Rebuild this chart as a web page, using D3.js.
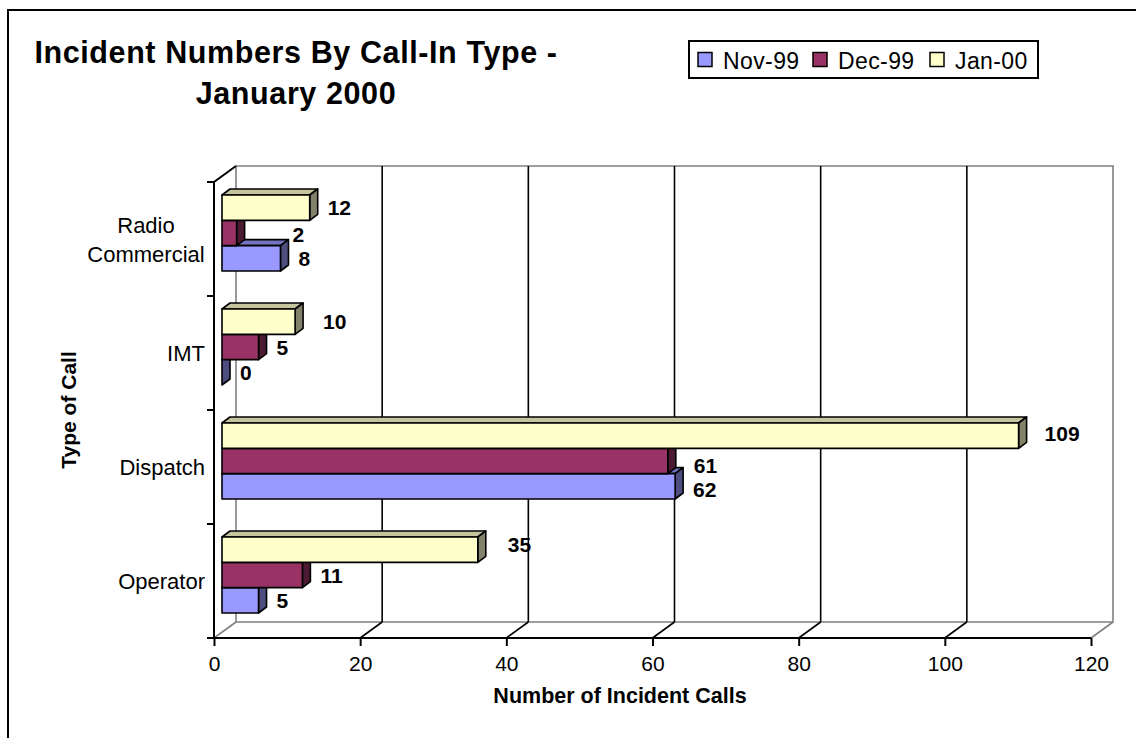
<!DOCTYPE html>
<html>
<head>
<meta charset="utf-8">
<script src="https://cdn.jsdelivr.net/npm/d3@7"></script>
<style>
  html, body { margin: 0; padding: 0; background: #fff; }
  svg { display: block; font-family: "Liberation Sans", Arial, sans-serif; }
</style>
</head>
<body>
<svg id="chart" width="1136" height="738"></svg>
<script>
// ---- data ----
const categories = ["Radio Commercial", "IMT", "Dispatch", "Operator"];
const seriesNames = ["Nov-99", "Dec-99", "Jan-00"];
const nov99 = [8, 0, 62, 5];
const dec99 = [2, 5, 61, 11];
const jan00 = [12, 10, 109, 35];
const xTicks = [0, 20, 40, 60, 80, 100, 120];

// ---- styling ----
const faceColors = {
  "Nov-99": { front: "#9999FF", top: "#7373BF", side: "#4D4D80" },
  "Dec-99": { front: "#993366", top: "#73264D", side: "#4D1A33" },
  "Jan-00": { front: "#FFFFCC", top: "#C4C49E", side: "#82826A" }
};
// small manual label adjustments (dx, dy) keyed by category|series
const labelNudge = {
  "Radio Commercial|Dec-99": [38, 1],
  "IMT|Jan-00": [10, 0],
  "Dispatch|Jan-00": [8, -2],
  "Dispatch|Dec-99": [8, 4],
  "Dispatch|Nov-99": [0, 3],
  "Operator|Jan-00": [12, -5]
};

const values = { "Nov-99": nov99, "Dec-99": dec99, "Jan-00": jan00 };

const svg = d3.select("#chart");

// chart frame
svg.append("rect")
  .attr("x", 8).attr("y", 10).attr("width", 1140).attr("height", 740)
  .attr("fill", "none").attr("stroke", "#000").attr("stroke-width", 2);

// ---- geometry ----
const plotTop = 182, plotBottom = 638;
const wallDx = 22, wallDy = -16;      // back wall offset
const barNear = [8, -6], barFar = [16, -12]; // bar depth offsets

const x = d3.scaleLinear().domain([0, 120]).range([214, 1091]);
const y = d3.scaleBand().domain(categories).range([plotTop, plotBottom]);
const inner = d3.scaleBand()
  .domain(["Jan-00", "Dec-99", "Nov-99"])
  .range([0, y.bandwidth()])
  .paddingOuter(0.75);

const grey = "#808080";
const walls = svg.append("g").attr("fill", "none");

// back wall outline
const x0 = x(0), x1 = x(120);
walls.append("path")
  .attr("d", `M${x0 + wallDx},${plotTop + wallDy}H${x1 + wallDx}V${plotBottom + wallDy}H${x0 + wallDx}Z`)
  .attr("stroke", grey).attr("stroke-width", 1.6);

// gridlines on back wall and floor
xTicks.forEach(t => {
  const edge = (t === 0 || t === 120);
  if (!edge) {
    walls.append("line")
      .attr("x1", x(t) + wallDx).attr("x2", x(t) + wallDx)
      .attr("y1", plotTop + wallDy).attr("y2", plotBottom + wallDy)
      .attr("stroke", "#000").attr("stroke-width", 1.6);
  }
  walls.append("line")
    .attr("x1", x(t)).attr("y1", plotBottom)
    .attr("x2", x(t) + wallDx).attr("y2", plotBottom + wallDy)
    .attr("stroke", edge ? grey : "#000").attr("stroke-width", 1.6);
});

// left wall: vertical axis and top diagonal
walls.append("path")
  .attr("d", `M${x0 + wallDx},${plotTop + wallDy}L${x0},${plotTop}V${plotBottom}`)
  .attr("stroke", "#000").attr("stroke-width", 2);

// category tick marks
const catEdges = categories.map(c => y(c)).concat([plotBottom]);
catEdges.forEach(v => {
  walls.append("line")
    .attr("x1", x0 - 7).attr("x2", x0).attr("y1", v).attr("y2", v)
    .attr("stroke", "#000").attr("stroke-width", 2);
});

// value axis (front)
const axisG = svg.append("g")
  .attr("transform", `translate(0,${plotBottom})`)
  .call(d3.axisBottom(x).tickValues(xTicks).tickSize(8).tickPadding(10).tickSizeOuter(0));
axisG.select(".domain").attr("stroke", "#000").attr("stroke-width", 2)
  .attr("d", `M${x0 - 7},0H${x1}`);
axisG.selectAll(".tick line").attr("stroke", "#000").attr("stroke-width", 2);
axisG.selectAll(".tick text")
  .attr("fill", "#000")
  .style("font-size", "21px")
  .style("font-family", "'Liberation Sans', Arial, sans-serif");

// category labels
const catG = svg.append("g").attr("font-size", 22).attr("fill", "#000");
categories.forEach(c => {
  const cy = y(c) + y.bandwidth() / 2;
  const words = c.split(" ");
  if (words.length > 1) {
    const t = catG.append("text").attr("text-anchor", "middle").attr("x", 146);
    words.forEach((w, i) => {
      t.append("tspan").attr("x", 146)
        .attr("y", cy + (i - (words.length - 1) / 2) * 29 + 8)
        .text(w);
    });
  } else {
    catG.append("text").attr("text-anchor", "end")
      .attr("x", 205).attr("y", cy + 8).text(c);
  }
});

// ---- bars ----
const barsG = svg.append("g")
  .attr("stroke", "#000").attr("stroke-width", 1.6).attr("stroke-linejoin", "round");
const drawOrder = ["Nov-99", "Dec-99", "Jan-00"];
const labels = [];

categories.forEach((c, ci) => {
  drawOrder.forEach(s => {
    const v = values[s][ci];
    const col = faceColors[s];
    const xs = x(0), xe = x(v);
    const yt = y(c) + inner(s), yb = yt + inner.bandwidth();
    const [nx, ny] = barNear, [fx, fy] = barFar;
    const g = barsG.append("g");
    // top face
    g.append("path")
      .attr("d", `M${xs + nx},${yt + ny}L${xe + nx},${yt + ny}L${xe + fx},${yt + fy}L${xs + fx},${yt + fy}Z`)
      .attr("fill", col.top);
    // side face
    g.append("path")
      .attr("d", `M${xe + nx},${yt + ny}L${xe + fx},${yt + fy}L${xe + fx},${yb + fy}L${xe + nx},${yb + ny}Z`)
      .attr("fill", col.side);
    // front face
    g.append("rect")
      .attr("x", xs + nx).attr("y", yt + ny)
      .attr("width", xe - xs).attr("height", yb - yt)
      .attr("fill", col.front);

    const nudge = labelNudge[c + "|" + s] || [0, 0];
    labels.push({
      text: String(v),
      x: xe + fx + 10 + nudge[0],
      y: (yt + yb) / 2 + ny + nudge[1]
    });
  });
});

// value labels
svg.append("g").attr("font-size", 21).attr("font-weight", "bold").attr("fill", "#000")
  .selectAll("text").data(labels).join("text")
  .attr("x", d => d.x).attr("y", d => d.y).attr("dy", "0.36em")
  .text(d => d.text);

// axis titles
svg.append("text")
  .attr("x", 620).attr("y", 703).attr("text-anchor", "middle")
  .attr("font-size", 21.5).attr("font-weight", "bold").text("Number of Incident Calls");
svg.append("text")
  .attr("transform", "translate(76,410) rotate(-90)").attr("text-anchor", "middle")
  .attr("font-size", 21).attr("font-weight", "bold").text("Type of Call");

// title
const title = svg.append("text").attr("text-anchor", "middle")
  .attr("font-size", 30.5).attr("font-weight", "bold").attr("letter-spacing", 0.6);
title.append("tspan").attr("x", 296).attr("y", 63).text("Incident Numbers By Call-In Type -");
title.append("tspan").attr("x", 296).attr("y", 104).text("January 2000");

// legend
const legend = svg.append("g");
legend.append("rect")
  .attr("x", 689).attr("y", 41).attr("width", 349).attr("height", 37)
  .attr("fill", "#fff").attr("stroke", "#000").attr("stroke-width", 2);
const legendStep = [698, 813, 930];
seriesNames.forEach((s, i) => {
  const lx = legendStep[i];
  legend.append("rect")
    .attr("x", lx).attr("y", 52.5).attr("width", 14).attr("height", 14)
    .attr("fill", faceColors[s].front).attr("stroke", "#000").attr("stroke-width", 1.5);
  legend.append("text")
    .attr("x", lx + 25).attr("y", 69).attr("font-size", 23).attr("letter-spacing", 0.4).text(s);
});
</script>
</body>
</html>
